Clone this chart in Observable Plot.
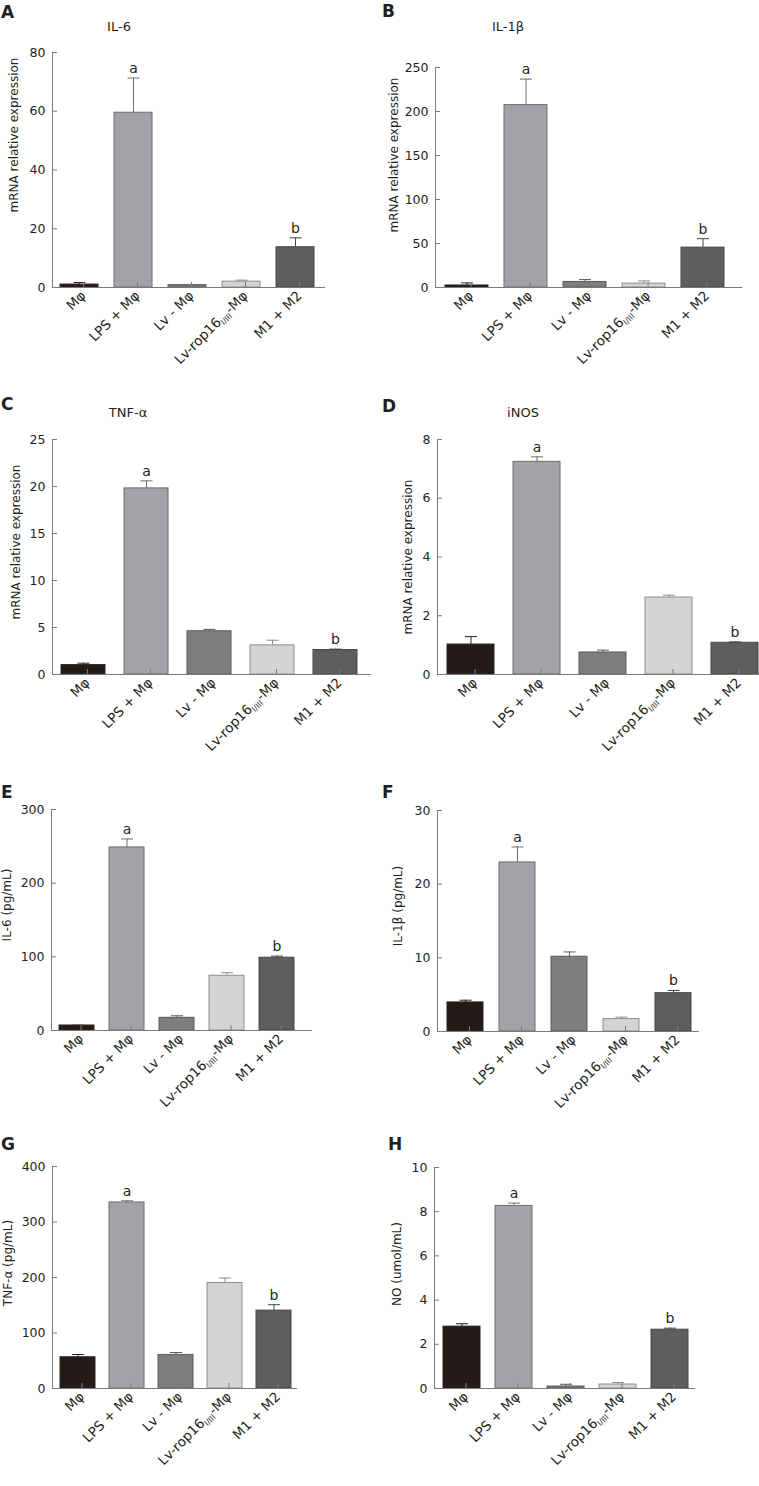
<!DOCTYPE html>
<html><head><meta charset="utf-8">
<script src="https://cdn.jsdelivr.net/npm/d3@7"></script>
<script src="https://cdn.jsdelivr.net/npm/@observablehq/plot@0.6"></script>
<style>
body{margin:0;background:#fff;}
#root{position:relative;width:759px;height:1486px;overflow:hidden;background:#fff;font-family:"DejaVu Sans",Verdana,sans-serif;}
.panel{position:absolute;overflow:visible;}
#overlay{position:absolute;left:0;top:0;pointer-events:none;}
</style></head><body><div id="root"></div>
<script>
// ---- data ----
const groups = ["Mφ", "LPS + Mφ", "Lv - Mφ", "Lv-rop16I/III-Mφ", "M1 + M2"];
const groupFill = ["#241a18", "#a2a2a7", "#7e7e80", "#d4d4d4", "#5e5e5f"];
const groupStroke = ["#2a2424", "#6e6e72", "#5a5a5c", "#8e8e8e", "#454545"];
const sigLetters = ["", "a", "", "", "b"];

const il6mRNA = [1.0, 59.5, 0.8, 2.0, 13.7];
const il6mRNAErr = [0.7, 11.8, 0.0, 0.5, 3.2];
const il1bmRNA = [2.3, 207.3, 6.3, 4.5, 45.3];
const il1bmRNAErr = [2.9, 29.5, 2.7, 3.0, 10.2];
const tnfmRNA = [1.0, 19.8, 4.6, 3.1, 2.6];
const tnfmRNAErr = [0.2, 0.8, 0.2, 0.55, 0.1];
const inosmRNA = [1.02, 7.24, 0.75, 2.62, 1.08];
const inosmRNAErr = [0.27, 0.17, 0.08, 0.08, 0.03];
const il6Protein = [6.8, 248.5, 17.2, 74.3, 98.8];
const il6ProteinErr = [0.3, 11.5, 2.8, 4.1, 2.2];
const il1bProtein = [3.95, 22.95, 10.15, 1.68, 5.2];
const il1bProteinErr = [0.3, 2.1, 0.65, 0.27, 0.37];
const tnfProtein = [56.3, 335.2, 60.5, 190, 140.3];
const tnfProteinErr = [4.9, 3.0, 4.3, 9, 10.7];
const noProtein = [2.8, 8.26, 0.09, 0.18, 2.66];
const noProteinErr = [0.13, 0.13, 0.1, 0.09, 0.07];

const ticksA = [0, 20, 40, 60, 80];
const ticksB = [0, 50, 100, 150, 200, 250];
const ticksC = [0, 5, 10, 15, 20, 25];
const ticksD = [0, 2, 4, 6, 8];
const ticksE = [0, 100, 200, 300];
const ticksF = [0, 10, 20, 30];
const ticksG = [0, 100, 200, 300, 400];
const ticksH = [0, 2, 4, 6, 8, 10];

const panelLetters = ["A", "B", "C", "D", "E", "F", "G", "H"];
const panelTitles = ["IL-6", "IL-1β", "TNF-α", "iNOS", "", "", "", ""];
const yLabels = ["mRNA relative expression", "mRNA relative expression", "mRNA relative expression", "mRNA relative expression",
  "IL-6 (pg/mL)", "IL-1β (pg/mL)", "TNF-α (pg/mL)", "NO (umol/mL)"];

// ---- layout ----
const panels = [
  {mean: il6mRNA, err: il6mRNAErr, ticks: ticksA, left: 0, top: 0, w: 380, h: 370, ml: 52, mr: 55, mt: 52, mb: 83, xr: [58, 317], pi: 0.29, lp: [1, 18], tp: [119, 31], yp: [14, 135]},
  {mean: il1bmRNA, err: il1bmRNAErr, ticks: ticksB, left: 380, top: 0, w: 379, h: 370, ml: 55, mr: 17, mt: 67, mb: 83, xr: [63, 346], pi: 0.274, lp: [382, 17], tp: [508, 31], yp: [394, 155]},
  {mean: tnfmRNA, err: tnfmRNAErr, ticks: ticksC, left: 0, top: 370, w: 380, h: 370, ml: 52, mr: 9, mt: 69, mb: 66, xr: [60, 358], pi: 0.307, lp: [1, 410], tp: [128, 417], yp: [16, 542]},
  {mean: inosmRNA, err: inosmRNAErr, ticks: ticksD, left: 380, top: 370, w: 379, h: 370, ml: 57, mr: 0, mt: 69, mb: 66, xr: [66, 379], pi: 0.293, lp: [382, 412], tp: [523, 417], yp: [408, 557]},
  {mean: il6Protein, err: il6ProteinErr, ticks: ticksE, left: 0, top: 740, w: 380, h: 370, ml: 51, mr: 68, mt: 69, mb: 80, xr: [57, 297], pi: 0.294, lp: [1, 798], tp: [0, 0], yp: [7, 905]},
  {mean: il1bProtein, err: il1bProteinErr, ticks: ticksF, left: 380, top: 740, w: 379, h: 370, ml: 57, mr: 60, mt: 70, mb: 79, xr: [65, 313], pi: 0.30, lp: [382, 798], tp: [0, 0], yp: [398, 906]},
  {mean: tnfProtein, err: tnfProteinErr, ticks: ticksG, left: 0, top: 1110, w: 380, h: 376, ml: 52, mr: 83, mt: 56, mb: 98, xr: [59, 292], pi: 0.28, lp: [1, 1150], tp: [0, 0], yp: [8, 1263]},
  {mean: noProtein, err: noProteinErr, ticks: ticksH, left: 380, top: 1110, w: 379, h: 376, ml: 54, mr: 64, mt: 57, mb: 98, xr: [62, 310], pi: 0.287, lp: [388, 1150], tp: [0, 0], yp: [397, 1264]}
];

const axisColor = "#7a7a7a";
const textColor = "#231f20";
const capSymbol = {draw(ctx) { ctx.moveTo(-6, 0); ctx.lineTo(6, 0); }};

const root = document.getElementById("root");

panels.forEach((p, k) => {
  const data = groups.map((g, i) => ({
    group: g, mean: p.mean[i], top: p.mean[i] + p.err[i],
    fill: groupFill[i], stroke: groupStroke[i], letter: sigLetters[i]
  }));
  const chart = Plot.plot({
    width: p.w, height: p.h,
    marginLeft: p.ml, marginRight: p.mr, marginTop: p.mt, marginBottom: p.mb,
    style: {fontFamily: "'DejaVu Sans', Verdana, sans-serif", fontSize: "12px", color: textColor, background: "transparent", overflow: "visible"},
    x: {domain: groups, range: p.xr, paddingInner: p.pi, paddingOuter: 0, axis: null},
    y: {domain: [0, p.ticks[p.ticks.length - 1]], axis: null},
    color: {type: "identity"},
    marks: [
      Plot.ruleX(data, {x: "group", y1: "mean", y2: "top", stroke: "stroke", strokeWidth: 1}),
      Plot.dot(data, {x: "group", y: "top", symbol: capSymbol, fill: "none", stroke: "stroke", strokeWidth: 1}),
      Plot.barY(data, {x: "group", y: "mean", fill: "fill", stroke: "stroke", strokeWidth: 1}),
      Plot.text(data, {x: "group", y: "top", text: "letter", dy: -5, lineAnchor: "bottom", fontSize: 14, fill: textColor}),
      Plot.ruleY([0], {stroke: axisColor}),
      Plot.frame({anchor: "left", stroke: axisColor}),
      Plot.axisY({ticks: p.ticks, tickSize: -5, tickPadding: 12, stroke: axisColor, fill: textColor, label: null, tickFormat: d => String(d), fontSize: 12.5}),
      Plot.axisX({tickSize: -5, tickPadding: 11, tickRotate: -45, dx: 4, stroke: axisColor, fill: textColor, label: null, fontSize: 13.5})
    ]
  });
  chart.classList.add("panel");
  chart.style.left = p.left + "px";
  chart.style.top = p.top + "px";
  d3.select(chart).selectAll("text").each(function () {
    if (this.textContent === groups[3]) {
      const el = d3.select(this);
      el.text(null);
      el.append("tspan").text("Lv-rop16");
      el.append("tspan").attr("font-size", "8").attr("dy", "3").text("I/III");
      el.append("tspan").attr("dy", "-3").text("-Mφ");
    }
  });
  root.appendChild(chart);
});

// overlay: panel letters, titles, y-axis labels
const ov = d3.select(root).append("svg").attr("id", "overlay").attr("width", 759).attr("height", 1486)
  .style("font-family", "'DejaVu Sans', Verdana, sans-serif");
panels.forEach((p, k) => {
  ov.append("text").attr("x", p.lp[0]).attr("y", p.lp[1]).attr("font-weight", "bold").attr("font-size", 17).attr("fill", textColor).text(panelLetters[k]);
  if (panelTitles[k]) ov.append("text").attr("x", p.tp[0]).attr("y", p.tp[1]).attr("text-anchor", "middle").attr("font-size", 13).attr("fill", textColor).text(panelTitles[k]);
  ov.append("text").attr("transform", `translate(${p.yp[0]},${p.yp[1]}) rotate(-90)`).attr("text-anchor", "middle").attr("dominant-baseline", "central").attr("font-size", 12).attr("fill", textColor).text(yLabels[k]);
});
</script></body></html>
